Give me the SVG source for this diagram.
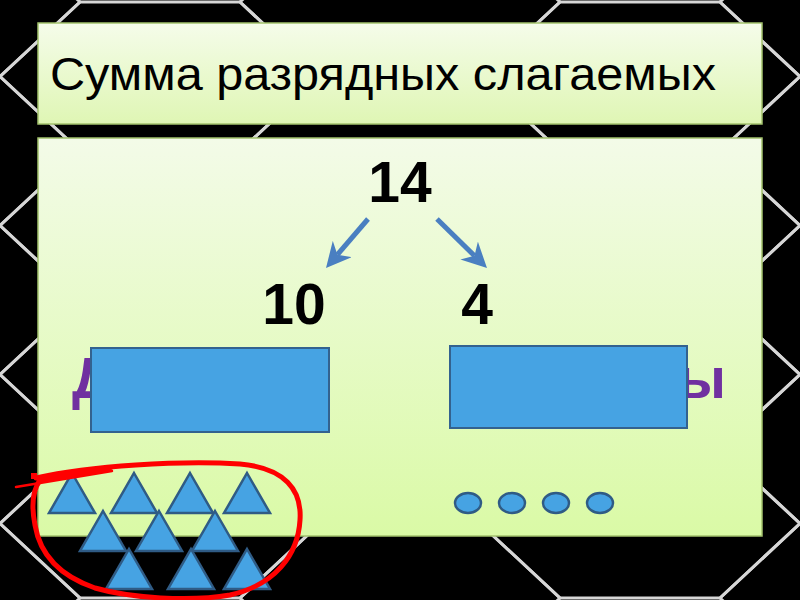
<svg xmlns="http://www.w3.org/2000/svg" xmlns:xlink="http://www.w3.org/1999/xlink" width="800" height="600" viewBox="0 0 800 600">
  <defs>
    <linearGradient id="gTitle" x1="0" y1="0" x2="0" y2="1">
      <stop offset="0" stop-color="#f5fcea"/>
      <stop offset="1" stop-color="#dff6b4"/>
    </linearGradient>
    <linearGradient id="gBody" x1="0" y1="0" x2="0" y2="1">
      <stop offset="0" stop-color="#f3fbe8"/>
      <stop offset="1" stop-color="#dafaa6"/>
    </linearGradient>
    <polygon id="hex" points="-160,0 -80,-74.5 80,-74.5 160,0 80,74.5 -80,74.5"/>
    <marker id="head" viewBox="0 0 10 10" markerWidth="5" markerHeight="5" refX="3" refY="5" orient="auto">
      <path d="M0,0 L10,5 L0,10 L3,5 z" fill="#4a7fc1"/>
    </marker>
    <polygon id="tri" points="0,0 23,40 -23,40"/>
  </defs>
  <style>
    .hex { fill: none; stroke: #d6d6d6; stroke-width: 3; }
    .panel { stroke: #a3c26c; stroke-width: 1.5; }
    .num { font-family: "Liberation Sans", Arial, sans-serif; font-weight: bold; font-size: 57px; fill: #000; text-anchor: middle; }
    .purple { font-family: "Liberation Sans", Arial, sans-serif; font-weight: bold; font-size: 57px; fill: #7030a0; }
    .blue { fill: #46a3e3; stroke: #33628f; stroke-width: 2; }
    .shape { fill: #46a3e3; stroke: #2f5b85; stroke-width: 2.5; }
    .arrow { stroke: #4a7fc1; stroke-width: 5; fill: none; marker-end: url(#head); }
  </style>

  <rect x="0" y="0" width="800" height="600" fill="#000"/>

  <g id="honeycomb" class="hex">
    <use xlink:href="#hex" x="-80" y="2"/>
    <use xlink:href="#hex" x="-80" y="151"/>
    <use xlink:href="#hex" x="-80" y="300"/>
    <use xlink:href="#hex" x="-80" y="449"/>
    <use xlink:href="#hex" x="-80" y="598"/>
    <use xlink:href="#hex" x="160" y="76.5"/>
    <use xlink:href="#hex" x="160" y="225.5"/>
    <use xlink:href="#hex" x="160" y="374.5"/>
    <use xlink:href="#hex" x="160" y="523.5"/>
    <use xlink:href="#hex" x="400" y="2"/>
    <use xlink:href="#hex" x="400" y="151"/>
    <use xlink:href="#hex" x="400" y="300"/>
    <use xlink:href="#hex" x="400" y="449"/>
    <use xlink:href="#hex" x="400" y="598"/>
    <use xlink:href="#hex" x="640" y="76.5"/>
    <use xlink:href="#hex" x="640" y="225.5"/>
    <use xlink:href="#hex" x="640" y="374.5"/>
    <use xlink:href="#hex" x="640" y="523.5"/>
    <use xlink:href="#hex" x="880" y="2"/>
    <use xlink:href="#hex" x="880" y="151"/>
    <use xlink:href="#hex" x="880" y="300"/>
    <use xlink:href="#hex" x="880" y="449"/>
    <use xlink:href="#hex" x="880" y="598"/>
  </g>

  <g id="title">
    <rect class="panel" x="38" y="23" width="724" height="101" fill="url(#gTitle)"/>
    <text x="50" y="90" font-family="'Liberation Sans', Arial, sans-serif" font-size="47" fill="#000" textLength="666" lengthAdjust="spacingAndGlyphs">Сумма разрядных слагаемых</text>
  </g>

  <g id="body">
    <rect class="panel" x="38" y="138" width="724" height="398" fill="url(#gBody)"/>
  </g>

  <g id="n14"><text class="num" x="400" y="202">14</text></g>
  <g id="n10"><text class="num" x="294" y="324">10</text></g>
  <g id="n4"><text class="num" x="477" y="324">4</text></g>

  <g id="connectors">
    <line class="arrow" x1="368" y1="219" x2="337.4" y2="254.7"/>
    <line class="arrow" x1="437" y1="219" x2="474.5" y2="255.8"/>
  </g>

  <g id="label-left"><text class="purple" x="72" y="398">Д</text></g>
  <g id="label-right"><text class="purple" x="726" y="398" text-anchor="end">ы</text></g>

  <g id="cover-left"><rect class="blue" x="91" y="348" width="238" height="84"/></g>
  <g id="cover-right"><rect class="blue" x="450" y="346" width="237" height="82"/></g>

  <g id="triangles" class="shape">
    <use xlink:href="#tri" x="72" y="473"/>
    <use xlink:href="#tri" x="134" y="473"/>
    <use xlink:href="#tri" x="190" y="473"/>
    <use xlink:href="#tri" x="247" y="473"/>
    <use xlink:href="#tri" x="103" y="511"/>
    <use xlink:href="#tri" x="159" y="511"/>
    <use xlink:href="#tri" x="215" y="511"/>
    <use xlink:href="#tri" x="129" y="549"/>
    <use xlink:href="#tri" x="191" y="549"/>
    <use xlink:href="#tri" x="247" y="549"/>
  </g>

  <g id="circles" class="shape">
    <ellipse cx="468" cy="503" rx="13" ry="10"/>
    <ellipse cx="512" cy="503" rx="13" ry="10"/>
    <ellipse cx="556" cy="503" rx="13" ry="10"/>
    <ellipse cx="600" cy="503" rx="13" ry="10"/>
  </g>

  <g id="red-loop" fill="none" stroke="#ff0000" stroke-linecap="round" stroke-linejoin="round">
    <path stroke-width="5" d="M36,478 C90,466 180,460 240,464 C285,468 302,490 300,520 C298,555 275,585 230,595 C190,602 130,598 95,588 C60,576 40,555 35,525 C31,505 33,490 40,480 L110,469"/>
    <path stroke-width="2.5" d="M16,487 L112,471"/>
    <rect x="31" y="473" width="6" height="6" fill="#ff0000" stroke="none"/>
  </g>
</svg>
